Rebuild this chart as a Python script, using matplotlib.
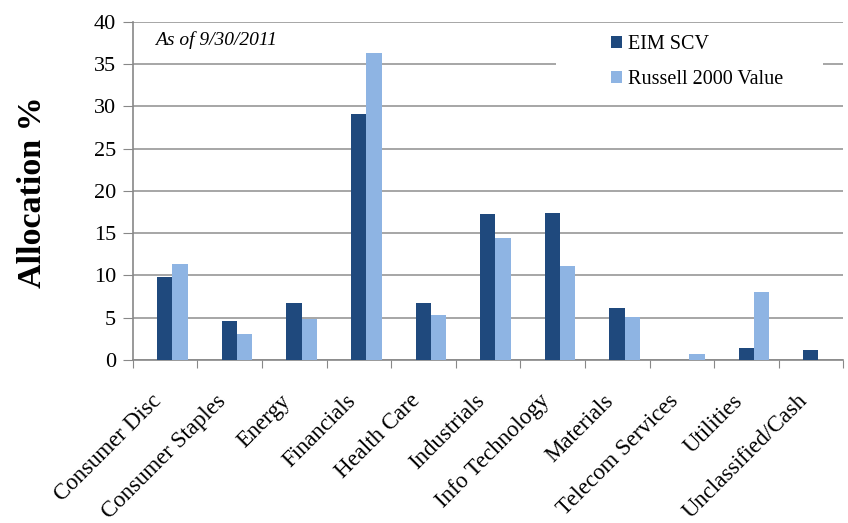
import numpy as np
import matplotlib
matplotlib.use("Agg")
import matplotlib.pyplot as plt
from matplotlib.patches import Rectangle
from matplotlib.transforms import ScaledTranslation

plt.rcParams['font.family'] = ['Liberation Serif', 'DejaVu Serif']

sectors = ['Consumer Disc', 'Consumer Staples', 'Energy', 'Financials', 'Health Care',
           'Industrials', 'Info Technology', 'Materials', 'Telecom Services', 'Utilities',
           'Unclassified/Cash']
eim_scv = [9.8, 4.6, 6.7, 29.1, 6.7, 17.3, 17.4, 6.1, 0.0, 1.4, 1.2]
russell_2000_value = [11.4, 3.1, 4.85, 36.3, 5.3, 14.4, 11.1, 5.1, 0.7, 8.0, 0.0]

dark = '#1F497D'
light = '#8EB4E3'
grid_col = '#A6A6A6'

fig = plt.figure(figsize=(8.48, 5.23), dpi=100)
ax = fig.add_axes([0.1565, 0.312, 0.838, 0.646])

x = np.arange(len(sectors))
w = 0.237
shift = 0.115  # bar pairs sit a little right of the category centre
ax.bar(x + shift - w / 2, eim_scv, w, color=dark, label='EIM SCV', zorder=3)
ax.bar(x + shift + w / 2, russell_2000_value, w, color=light, label='Russell 2000 Value', zorder=3)

ax.set_xlim(-0.5, len(sectors) - 0.5)
ax.set_ylim(0, 40)
ax.set_yticks(range(0, 41, 5))
ax.yaxis.grid(True, color=grid_col, linewidth=1.4, zorder=0)
ax.set_axisbelow(True)

for s in ['top', 'right']:
    ax.spines[s].set_visible(False)
for s in ['left', 'bottom']:
    ax.spines[s].set_color('#888888')
    ax.spines[s].set_linewidth(1.2)

ax.tick_params(axis='y', direction='out', length=7, color='#888888', labelsize=16, pad=5)
# category ticks sit between groups
ax.set_xticks(np.arange(-0.5, len(sectors), 1.0))
ax.set_xticklabels([])
ax.tick_params(axis='x', direction='out', length=6, color='#888888')
ax.set_xticks(x, minor=True)
ax.set_xticklabels(sectors, minor=True, rotation=45, ha='right', rotation_mode='anchor',
                   fontsize=16.5)
ax.tick_params(axis='x', which='minor', length=0, pad=22)
nudge = ScaledTranslation(-0.14, 0.0, fig.dpi_scale_trans)
for lab in ax.get_xticklabels(minor=True):
    lab.set_transform(lab.get_transform() + nudge)

fig.text(33 / 848, 1 - 192 / 523, 'Allocation %', rotation=90, fontsize=24.5,
         fontweight='bold', ha='center', va='center')

ax.text(0.031, 0.947, 'As of 9/30/2011', transform=ax.transAxes, fontsize=14,
        fontstyle='italic', va='center', ha='left')

# white panel behind the legend hides the gridline there
ax.add_patch(Rectangle((0.596, 0.78), 0.376, 0.215, transform=ax.transAxes,
                       facecolor='white', edgecolor='none', zorder=1))
ax.legend(loc='upper left', bbox_to_anchor=(0.673, 0.962), frameon=False,
          fontsize=14.5, handlelength=0.55, handleheight=0.55, handletextpad=0.3,
          labelspacing=0.82, borderpad=0, borderaxespad=0)

fig.savefig('out.png', dpi=100)
